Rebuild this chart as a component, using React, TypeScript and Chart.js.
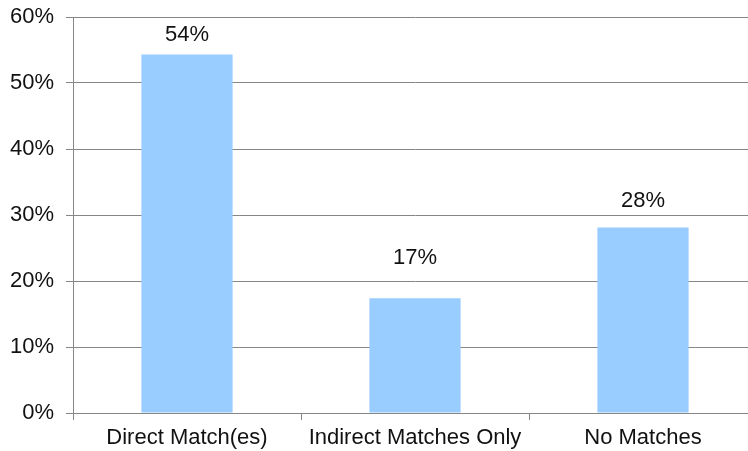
import React, { useEffect, useRef } from "react";
import { Chart, registerables } from "chart.js";

Chart.register(...registerables);

const categories = ["Direct Match(es)", "Indirect Matches Only", "No Matches"];
const values = [54.3, 17.4, 28.1];
const valueLabels = ["54%", "17%", "28%"];
const yTicks = [0, 10, 20, 30, 40, 50, 60];

const FONT = '"Liberation Sans", Arial, sans-serif';
const GRID = "#868686";

const labelPlugin = {
  id: "barLabels",
  afterDatasetsDraw(chart: any, _args: any, opts: any) {
    const ctx = chart.ctx;
    const meta = chart.getDatasetMeta(0);
    ctx.save();
    ctx.font = `22px ${FONT}`;
    ctx.fillStyle = "#111";
    ctx.textAlign = "center";
    ctx.textBaseline = "middle";
    meta.data.forEach((bar: any, i: number) => {
      const off = (opts.offsets && opts.offsets[i]) || 24;
      ctx.fillText(valueLabels[i], bar.x, bar.y - off);
    });
    ctx.restore();
  },
};

export default function App() {
  const ref = useRef<HTMLCanvasElement>(null);
  useEffect(() => {
    if (!ref.current) return;
    const chart = new Chart(ref.current, {
      type: "bar",
      data: {
        labels: categories,
        datasets: [
          {
            data: values,
            backgroundColor: "rgb(153,204,255)",
            borderWidth: 0,
            barPercentage: 0.4,
            categoryPercentage: 1,
          },
        ],
      },
      options: {
        responsive: false,
        animation: false,
        layout: { padding: { top: 17, right: 3, left: 0, bottom: 0 } },
        plugins: {
          legend: { display: false },
          tooltip: { enabled: false },
          barLabels: { offsets: [20, 40, 27] },
        } as any,
        scales: {
          x: {
            offset: true,
            grid: {
              offset: true,
              drawOnChartArea: false,
              drawTicks: true,
              tickLength: 7,
              color: GRID,
            },
            border: { color: GRID, width: 1 },
            ticks: {
              color: "#111",
              font: { family: FONT, size: 22 },
              padding: 5,
              maxRotation: 0,
            },
            afterFit(scale: any) {
              scale.height = 38;
              scale.paddingLeft = 0;
              scale.paddingRight = 0;
            },
          },
          y: {
            min: 0,
            max: 60,
            afterBuildTicks(scale: any) {
              scale.ticks = yTicks.map((v) => ({ value: v }));
            },
            grid: { color: GRID, tickLength: 7, drawTicks: true },
            border: { color: GRID, width: 1 },
            ticks: {
              color: "#111",
              font: { family: FONT, size: 22 },
              padding: 12,
              callback: (v: any) => v + "%",
            },
            afterFit(scale: any) {
              scale.width = 73;
              scale.paddingTop = 0;
              scale.paddingBottom = 0;
            },
          },
        },
      },
      plugins: [labelPlugin],
    });
    return () => chart.destroy();
  }, []);
  return (
    <div
      style={{
        position: "absolute",
        left: 0,
        top: 0,
        width: 748,
        height: 451,
        overflow: "hidden",
        background: "#fff",
      }}
    >
      <canvas ref={ref} width={760} height={451} style={{ display: "block" }} />
    </div>
  );
}
